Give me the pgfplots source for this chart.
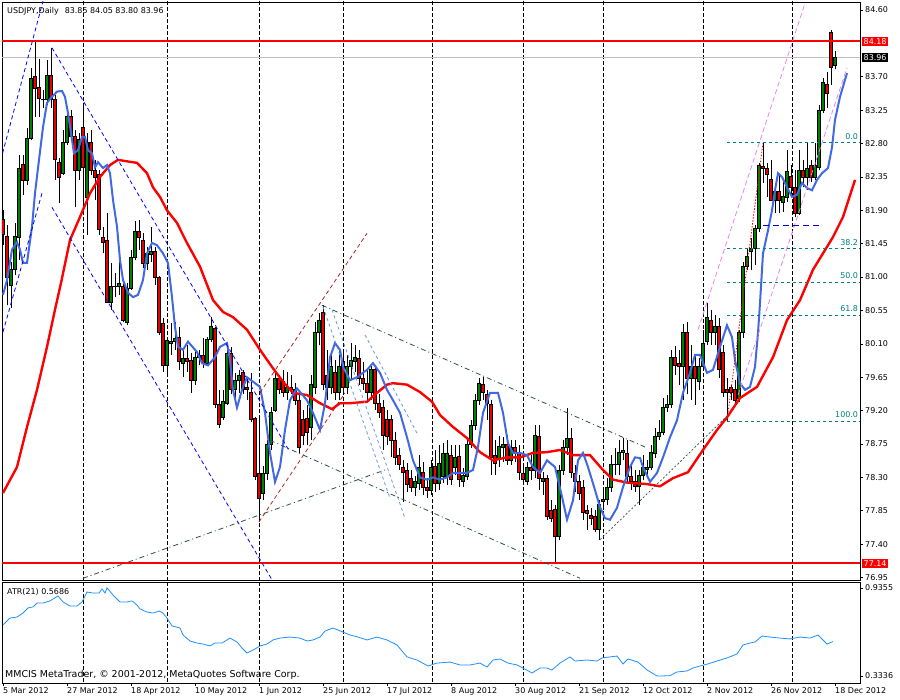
\documentclass[border=0pt]{standalone}
\usepackage{pgfplots}
\pgfplotsset{compat=1.18}
\usepackage{pgfplotstable}
\usepackage{fontspec}
\setmainfont{DejaVu Sans}
\definecolor{bull}{RGB}{0,128,0}
\definecolor{bear}{RGB}{230,0,0}
\definecolor{maBlue}{RGB}{65,105,225}
\definecolor{atrBlue}{RGB}{30,144,255}
\definecolor{fibTeal}{RGB}{0,128,128}
\definecolor{slate}{RGB}{47,79,79}
\definecolor{brick}{RGB}{178,34,34}
\definecolor{cfBlue}{RGB}{100,149,237}
\definecolor{violetL}{RGB}{238,130,238}
\definecolor{silverL}{RGB}{192,192,192}
\definecolor{medBlue}{RGB}{0,0,205}

\pgfplotstableread{
i o h l c
0 81.78 81.90 81.43 81.57
1 81.55 81.70 80.62 81.00
2 80.89 81.20 80.58 81.10
3 81.10 81.73 81.03 81.55
4 81.53 82.65 81.23 82.47
5 82.52 82.65 82.11 82.31
6 82.31 83.01 82.24 82.87
7 82.87 83.82 82.85 83.68
8 83.70 84.17 83.16 83.55
9 83.56 83.94 83.16 83.41
10 83.39 83.52 83.28 83.40
11 83.39 83.93 83.32 83.72
12 83.72 84.09 83.28 83.39
13 83.40 83.45 82.31 82.58
14 82.55 82.60 82.00 82.35
15 82.40 82.98 82.38 82.82
16 82.82 83.21 82.78 83.16
17 83.16 83.25 82.85 82.89
18 82.89 82.98 81.94 82.44
19 82.44 82.94 82.31 82.86
20 83.02 83.35 81.86 82.48
21 82.08 82.94 81.57 82.81
22 82.82 82.98 82.38 82.44
23 82.44 82.58 82.04 82.35
24 82.38 82.44 81.57 81.64
25 81.53 81.68 81.32 81.47
26 81.50 81.86 80.65 80.66
27 80.66 81.19 80.56 80.87
28 80.87 81.06 80.73 80.88
29 80.87 81.20 80.76 80.92
30 80.87 80.99 80.39 80.42
31 80.39 80.92 80.35 80.85
32 80.85 81.37 80.83 81.26
33 81.26 81.75 81.23 81.61
34 81.61 81.77 81.37 81.53
35 81.50 81.60 81.12 81.19
36 81.19 81.41 81.10 81.32
37 81.30 81.68 81.20 81.34
38 81.34 81.41 80.89 80.99
39 80.99 81.01 80.22 80.26
40 80.38 80.45 79.72 79.81
41 79.81 80.18 79.65 80.15
42 80.10 80.38 79.95 80.13
43 80.13 80.39 80.02 80.18
44 80.19 80.33 79.75 79.86
45 79.84 80.02 79.65 79.90
46 79.91 80.08 79.72 79.86
47 79.88 79.98 79.44 79.61
48 79.61 79.99 79.55 79.92
49 79.92 80.02 79.81 79.95
50 79.95 80.18 79.77 79.84
51 79.84 80.19 79.80 80.16
52 80.16 80.46 80.13 80.33
53 80.31 80.33 79.24 79.28
54 79.28 79.48 78.97 79.01
55 79.11 79.48 79.08 79.32
56 79.30 80.13 79.28 79.97
57 79.97 80.06 79.42 79.48
58 79.48 79.71 79.34 79.61
59 79.61 79.75 79.44 79.68
60 79.71 79.75 79.42 79.48
61 79.52 79.65 79.34 79.48
62 79.45 79.71 79.04 79.08
63 79.09 79.11 78.27 78.31
64 78.36 79.11 77.70 78.02
65 78.09 78.45 78.00 78.36
66 78.36 78.80 78.27 78.75
67 78.75 79.25 78.67 79.18
68 79.21 79.75 79.18 79.63
69 79.63 79.68 79.42 79.48
70 79.60 79.75 79.39 79.44
71 79.44 79.72 79.34 79.52
72 79.52 79.68 79.42 79.48
73 79.48 79.57 79.28 79.34
74 79.34 79.42 78.63 78.70
75 79.08 79.21 78.74 78.87
76 79.10 79.28 78.74 78.91
77 78.97 79.68 78.80 79.55
78 79.52 80.39 79.42 80.26
79 80.26 80.52 80.08 80.42
80 80.53 80.62 79.48 79.55
81 79.67 80.02 79.34 79.51
82 79.52 79.95 79.42 79.80
83 79.72 79.88 79.34 79.44
84 79.45 80.02 79.34 79.79
85 79.86 79.99 79.45 79.52
86 79.51 79.95 79.42 79.79
87 79.79 80.11 79.61 79.88
88 79.86 80.08 79.72 79.92
89 79.91 80.02 79.55 79.64
90 79.64 79.86 79.48 79.57
91 79.57 79.75 79.34 79.44
92 79.44 79.81 79.34 79.75
93 79.75 79.81 79.21 79.30
94 79.30 79.42 79.10 79.18
95 79.25 79.34 78.67 78.87
96 79.08 79.21 78.74 78.85
97 79.08 79.14 78.57 78.80
98 78.80 78.91 78.47 78.57
99 78.60 78.70 78.40 78.47
100 78.44 78.53 77.97 78.37
101 78.40 78.49 78.10 78.20
102 78.29 78.40 78.10 78.17
103 78.16 78.32 78.05 78.24
104 78.22 78.60 78.13 78.44
105 78.37 78.51 78.06 78.17
106 78.17 78.29 78.02 78.13
107 78.13 78.53 78.06 78.44
108 78.45 78.67 78.10 78.22
109 78.22 78.74 78.13 78.49
110 78.31 78.76 78.22 78.62
111 78.31 78.80 78.20 78.62
112 78.60 78.74 78.20 78.27
113 78.44 78.74 78.33 78.57
114 78.59 78.74 78.17 78.27
115 78.24 78.43 78.17 78.33
116 78.31 78.84 78.27 78.75
117 78.75 79.08 78.70 79.00
118 79.00 79.42 78.94 79.34
119 79.34 79.64 79.28 79.57
120 79.56 79.65 79.34 79.44
121 79.42 79.48 79.08 79.30
122 79.29 79.34 78.33 78.57
123 78.60 78.80 78.33 78.49
124 78.55 78.86 78.44 78.72
125 78.70 78.84 78.51 78.75
126 78.75 78.87 78.47 78.53
127 78.53 78.80 78.47 78.71
128 78.71 78.80 78.51 78.62
129 78.63 78.74 78.27 78.37
130 78.36 78.47 78.20 78.27
131 78.24 78.51 78.20 78.43
132 78.43 78.60 78.27 78.40
133 78.39 79.01 78.29 78.87
134 78.85 79.01 78.13 78.29
135 78.24 78.37 78.06 78.29
136 78.29 78.33 77.73 77.77
137 77.86 78.00 77.70 77.75
138 77.87 77.93 77.16 77.50
139 77.50 78.47 77.46 78.40
140 78.40 78.80 78.33 78.71
141 78.71 79.24 78.60 78.83
142 78.83 78.97 78.29 78.37
143 78.36 78.47 78.10 78.24
144 78.24 78.33 78.00 78.09
145 78.17 78.27 77.73 77.83
146 77.85 77.93 77.59 77.81
147 77.79 77.89 77.66 77.75
148 77.77 77.86 77.56 77.60
149 77.60 78.00 77.46 77.93
150 77.98 78.13 77.86 78.00
151 78.00 78.29 77.93 78.17
152 78.17 78.60 78.10 78.48
153 78.47 78.70 78.33 78.48
154 78.47 78.80 78.33 78.64
155 78.64 78.83 78.53 78.66
156 78.63 78.80 78.24 78.32
157 78.32 78.47 78.13 78.24
158 78.24 78.40 78.10 78.18
159 78.18 78.40 77.93 78.33
160 78.33 78.60 78.27 78.43
161 78.41 78.53 78.29 78.44
162 78.44 78.74 78.40 78.64
163 78.63 78.97 78.56 78.85
164 78.85 79.07 78.80 78.91
165 78.91 79.37 78.87 79.25
166 79.25 79.41 79.18 79.29
167 79.28 80.02 79.24 79.92
168 79.92 80.07 79.68 79.81
169 79.84 80.02 79.55 79.79
170 79.79 80.37 79.34 80.26
171 80.26 80.39 79.42 79.64
172 79.64 80.08 79.34 79.79
173 79.79 79.95 79.28 79.63
174 79.59 79.91 79.48 79.79
175 79.79 80.29 79.75 80.11
176 80.13 80.65 80.08 80.46
177 80.42 80.56 80.08 80.26
178 80.26 80.49 80.08 80.33
179 80.33 80.45 79.64 79.75
180 79.98 80.08 79.39 79.45
181 79.48 79.64 79.06 79.45
182 79.51 79.55 79.34 79.44
183 79.48 79.61 79.28 79.34
184 79.37 80.29 79.32 80.25
185 80.25 81.20 80.18 81.15
186 81.14 81.39 81.10 81.28
187 81.34 81.53 81.10 81.39
188 81.39 81.70 81.16 81.65
189 81.65 82.54 81.61 82.50
190 82.49 82.81 82.27 82.47
191 82.47 82.54 82.08 82.38
192 82.32 82.58 82.02 82.04
193 82.04 82.24 81.86 82.15
194 82.15 82.38 81.86 82.04
195 82.01 82.34 81.88 82.09
196 82.08 82.71 82.01 82.43
197 82.36 82.51 82.11 82.21
198 82.21 82.44 81.81 81.86
199 81.86 82.71 81.84 82.44
200 82.44 82.58 82.21 82.35
201 82.35 82.81 82.18 82.46
202 82.50 82.58 82.28 82.35
203 82.35 82.81 82.31 82.51
204 82.48 83.32 82.44 83.25
205 83.25 83.68 83.21 83.62
206 83.60 83.76 83.28 83.47
207 84.30 84.33 83.59 83.83
208 83.85 84.05 83.80 83.96
}\candles

\pgfplotstableread{
i p
0 78.09
3.5 78.44
6 78.98
8.5 79.48
11 80.06
13 80.56
14.5 80.92
16.75 81.50
19.25 81.81
21.75 82.13
24.25 82.35
26.75 82.51
28.75 82.58
31 82.56
33.5 82.54
36 82.40
37.5 82.21
39.25 82.08
41 81.90
43.5 81.73
46 81.46
49.25 81.14
52.5 80.69
55 80.53
57.5 80.46
61 80.29
64.25 80.02
67.5 79.77
70 79.59
72.5 79.44
76 79.41
79.25 79.30
82.25 79.22
84.25 79.30
86.75 79.30
91 79.32
93.5 79.44
96 79.55
97.5 79.57
101 79.55
104.25 79.45
107.25 79.32
109.25 79.14
112.5 78.98
116 78.83
119.25 78.64
122.5 78.53
126 78.57
129.25 78.57
132.5 78.63
136 78.64
139.25 78.67
142.5 78.60
146.75 78.60
150 78.40
152.5 78.27
156 78.23
161 78.21
164.25 78.18
167.5 78.29
171.25 78.37
175 78.67
178.5 78.94
181 79.11
184.25 79.37
188.5 79.52
192.5 79.92
196 80.42
199.25 80.69
202.5 81.10
207.5 81.54
210 81.81
213 82.31
}\slowma

\pgfplotstableread{
i p
0 80.76
1 80.96
2.25 81.37
3.5 81.47
4.25 81.37
5 81.19
6 81.19
7.25 81.68
8 82.13
9 82.58
10 83.02
11 83.35
12.25 83.43
13.5 83.50
14.75 83.51
15.5 83.43
16.25 83.21
17.25 82.85
17.75 82.67
18.75 82.71
19.75 82.89
20.5 82.89
21.25 82.71
22.25 82.67
23 82.48
23.75 82.55
25 82.47
26 82.51
26.75 82.40
27.5 82.04
28.5 81.68
29.25 81.23
30 80.96
31.25 80.79
32.5 80.73
33.75 80.76
35 80.96
36 81.32
37.25 81.46
38.5 81.43
40 81.32
41.25 81.19
42.25 80.73
43 80.33
43.75 80.06
45 80.02
46.25 80.13
48.5 79.99
49.75 79.84
51.25 79.81
53 79.92
54.25 80.06
56 80.11
56.75 79.88
57.5 79.48
58.5 79.24
59.75 79.48
61 79.65
62.5 79.59
64.25 79.52
65.5 79.17
66.75 78.63
68 78.24
69.25 78.44
70.5 78.94
71.75 79.34
73.5 79.50
76 79.34
77.5 79.17
79.25 78.94
80.5 79.30
81.75 79.92
83 80.11
84.25 80.02
85 79.79
86.75 79.61
88.5 79.65
91 79.75
92.5 79.84
94.25 79.71
96 79.48
97.5 79.34
99.25 79.17
101 78.84
102.5 78.53
104.25 78.30
106 78.27
107.5 78.30
109.25 78.27
111 78.30
112.5 78.36
114.25 78.36
116 78.36
117.5 78.40
118.75 78.71
120 79.17
121.75 79.44
123.75 79.44
125 79.17
126.25 78.76
127.5 78.63
129.25 78.63
131 78.60
132.5 78.44
134.25 78.36
136 78.53
138 78.44
139.75 78.04
141 77.73
142.5 77.99
143.75 78.53
145 78.63
146.25 78.44
148 78.13
149.25 77.90
150.5 77.75
151.75 77.73
153.5 77.89
155 78.17
156.75 78.44
158 78.57
159.25 78.56
160 78.44
161.75 78.24
163.5 78.36
165 78.57
166.75 78.84
168.5 79.07
170 79.44
171.75 79.71
173 79.95
174.25 79.95
176 79.71
177.5 79.75
179.25 80.06
181 80.35
182.25 80.19
183 79.88
184.25 79.57
185.5 79.48
186.75 79.52
188 79.79
188.75 80.25
189.25 80.65
190 81.32
191.25 81.63
192.25 81.90
193 82.17
193.75 82.40
194.75 82.35
196 82.21
197.25 82.08
198.5 82.11
199.75 82.27
201 82.20
202.25 82.17
203.5 82.31
204.75 82.40
206.25 82.47
207.25 82.75
208 83.12
209.25 83.43
211 83.75
}\fastma

\pgfplotstableread{
i a
0 0.683
1.75 0.730
3.5 0.737
5 0.764
6.25 0.799
7.5 0.806
8.5 0.833
10 0.833
11.75 0.847
13.75 0.881
15 0.840
16.75 0.812
18.5 0.812
19.75 0.840
21 0.908
22.5 0.901
24 0.901
24.75 0.929
25.5 0.901
26 0.936
27.5 0.888
29.25 0.840
31 0.840
32.25 0.847
33.5 0.819
34.25 0.792
36 0.771
37.5 0.764
39 0.778
40 0.764
41 0.730
42.25 0.676
44.25 0.662
45 0.614
46.75 0.573
48.5 0.559
50 0.552
51.75 0.539
53 0.559
54.75 0.559
56.75 0.593
58.5 0.566
59.75 0.525
61 0.491
62.5 0.511
64.25 0.539
66 0.552
67.5 0.580
69.25 0.593
71.75 0.600
74.25 0.593
76 0.573
77.5 0.580
79.25 0.600
80.5 0.641
82.5 0.662
85 0.634
86.75 0.614
88.75 0.600
91 0.580
93.5 0.600
96 0.580
98.5 0.546
101 0.464
103.5 0.443
106.25 0.402
108.5 0.422
111.75 0.429
114.25 0.409
116.75 0.409
119.25 0.422
121 0.395
122.5 0.443
124.25 0.450
126.25 0.422
128.5 0.409
130 0.388
132.25 0.354
134.25 0.388
136 0.388
137.25 0.375
139.25 0.422
141.75 0.464
143 0.436
146 0.443
148.5 0.436
149.75 0.457
151.75 0.464
153.5 0.470
155 0.416
156.25 0.450
158.75 0.429
161 0.375
163.5 0.334
165 0.334
166.75 0.336
168.5 0.361
171 0.368
172.5 0.388
174.25 0.402
176.25 0.416
178.5 0.436
181 0.457
183.5 0.484
185 0.546
186.75 0.559
188 0.566
189.75 0.607
191.75 0.600
194.25 0.593
196.75 0.587
199.25 0.600
201.75 0.593
203.75 0.614
206 0.552
207.5 0.569
}\atr

\pgfplotsset{
  mtframe/.style={
    scale only axis, width=858bp,
    xmin=-0.25, xmax=214.25,
    axis line style={black, line width=0.8bp},
    tick style={black, line width=0.6bp},
    tick align=outside, major tick length=3bp,
    every tick label/.append style={font=\fontsize{8}{9.6}\selectfont},
    ytick pos=right,
    yticklabel style={anchor=west, inner sep=0pt, xshift=2bp},
  },
}

\begin{document}
\begin{tikzpicture}[font=\fontsize{8}{9.6}\selectfont]
\useasboundingbox (0,0) rectangle (900bp,700bp);
\fill[white] (0,0) rectangle (900bp,700bp);

\begin{axis}[mtframe,
  at={(2bp,120bp)}, anchor=south west, height=578bp,
  ymin=76.917, ymax=84.708,
  xtick=\empty,
  ytick={76.95,77.40,77.85,78.30,78.75,79.20,79.65,80.10,80.55,81.00,81.45,81.90,82.35,82.80,83.25,83.70,84.60},
  yticklabels={76.95,77.40,77.85,78.30,78.75,79.20,79.65,80.10,80.55,81.00,81.45,81.90,82.35,82.80,83.25,83.70,84.60},
]
% month separators
\pgfplotsinvokeforeach{20,41,64,85,107.25,130,150,175,197.25}{
  \addplot[black, line width=0.8bp, dash pattern=on 4bp off 2bp, forget plot] coordinates {(#1,76.9) (#1,84.8)};
}
% current price line
\addplot[silverL, line width=0.9bp] coordinates {(-0.25,83.96) (214.25,83.96)};

% candles
\pgfplotstablegetrowsof{\candles}
\pgfmathtruncatemacro\lastrow{\pgfplotsretval-1}
\pgfplotsforeachungrouped \k in {0,...,\lastrow}{%
  \pgfplotstablegetelem{\k}{i}\of\candles\let\cX\pgfplotsretval
  \pgfplotstablegetelem{\k}{o}\of\candles\let\cO\pgfplotsretval
  \pgfplotstablegetelem{\k}{h}\of\candles\let\cH\pgfplotsretval
  \pgfplotstablegetelem{\k}{l}\of\candles\let\cL\pgfplotsretval
  \pgfplotstablegetelem{\k}{c}\of\candles\let\cC\pgfplotsretval
  \pgfmathsetmacro\cXL{\cX-0.33}%
  \pgfmathsetmacro\cXR{\cX+0.33}%
  \pgfmathtruncatemacro\cDown{\cC<\cO}%
  \ifnum\cDown=1 \def\cFill{bear}\else\def\cFill{bull}\fi
  \edef\doit{%
    \noexpand\addplot[black, line width=0.9bp, forget plot] coordinates {(\cX,\cL) (\cX,\cH)};%
    \noexpand\addplot[draw=black, fill=\cFill, line width=0.75bp, forget plot] coordinates {(\cXL,\cO) (\cXR,\cO) (\cXR,\cC) (\cXL,\cC)} -- cycle;%
  }\doit
}

% moving averages
\addplot[red, line width=2.4bp] table[x=i, y=p] {\slowma};
\addplot[maBlue, line width=2bp] table[x=i, y=p] {\fastma};

% support / resistance
\addplot[red, line width=2bp] coordinates {(-0.25,84.18) (214.25,84.18)};
\addplot[red, line width=2bp] coordinates {(-0.25,77.14) (214.25,77.14)};

% blue channels
\addplot[blue, line width=0.8bp, dash pattern=on 4bp off 3bp] coordinates {(-0.1,82.67) (10.1,84.74)};
\addplot[blue, line width=0.8bp, dash pattern=on 4bp off 3bp] coordinates {(0,80.26) (9.75,82.13)};
\addplot[blue, line width=0.8bp, dash pattern=on 4bp off 3bp] coordinates {(12.25,84.09) (71.75,78.64)};
\addplot[blue, line width=0.8bp, dash pattern=on 4bp off 3bp] coordinates {(12.25,81.94) (67.25,76.92)};
% brick dashed channel
\addplot[brick, line width=0.8bp, dash pattern=on 4bp off 3bp] coordinates {(64,77.70) (85.5,79.44)};
\addplot[brick, line width=0.8bp, dash pattern=on 4bp off 3bp] coordinates {(64.25,79.44) (91,81.59)};
% slate dash-dot lines
\addplot[slate, line width=0.8bp, dash pattern=on 5bp off 3bp on 1bp off 3bp] coordinates {(79.75,80.62) (160.5,78.71)};
\addplot[slate, line width=0.8bp, dash pattern=on 5bp off 3bp on 1bp off 3bp] coordinates {(66.75,78.80) (144.25,76.94)};
\addplot[slate, line width=0.8bp, dash pattern=on 5bp off 3bp on 1bp off 3bp] coordinates {(20,76.94) (95.5,78.40)};
\addplot[slate, line width=0.7bp, dash pattern=on 2bp off 2bp] coordinates {(149.25,77.46) (181.25,79.14)};
% cornflower fan
\addplot[cfBlue, line width=0.8bp, dash pattern=on 3bp off 3bp] coordinates {(80,80.60) (96.75,78.02)};
\addplot[cfBlue, line width=0.8bp, dash pattern=on 3bp off 3bp] coordinates {(82.25,80.56) (100.5,77.75)};
\addplot[cfBlue, line width=0.8bp, dash pattern=on 3bp off 3bp] coordinates {(90.5,80.22) (103.75,78.87)};
% violet channel
\addplot[violetL, line width=0.8bp, dash pattern=on 5bp off 3bp] coordinates {(173.75,80.29) (200.5,84.69)};
\addplot[violetL, line width=0.8bp, dash pattern=on 5bp off 3bp] coordinates {(183.75,79.41) (211,83.82)};
% fibonacci
\pgfplotsinvokeforeach{82.81,81.38,80.935,80.49,79.06}{
  \addplot[fibTeal, line width=0.8bp, dash pattern=on 3bp off 3bp, forget plot] coordinates {(181,#1) (214.25,#1)};
}
\addplot[red, line width=0.8bp, dash pattern=on 1.5bp off 1.5bp] coordinates {(181,79.06) (190,82.81)};
\addplot[medBlue, line width=1bp, dash pattern=on 6bp off 4bp] coordinates {(190,81.70) (204.25,81.70)};

\node[anchor=south east, inner sep=0pt, text=fibTeal] at (axis cs:213.8,82.85) {0.0};
\node[anchor=south east, inner sep=0pt, text=fibTeal] at (axis cs:213.8,81.42) {38.2};
\node[anchor=south east, inner sep=0pt, text=fibTeal] at (axis cs:213.8,80.975) {50.0};
\node[anchor=south east, inner sep=0pt, text=fibTeal] at (axis cs:213.8,80.53) {61.8};
\node[anchor=south east, inner sep=0pt, text=fibTeal] at (axis cs:213.8,79.10) {100.0};

\coordinate (b1) at (axis cs:214.25,84.18);
\coordinate (b2) at (axis cs:214.25,83.96);
\coordinate (b3) at (axis cs:214.25,77.14);
\end{axis}

\begin{axis}[mtframe,
  at={(2bp,17bp)}, anchor=south west, height=101bp,
  ymin=0.2857, ymax=0.9765,
  xtick={0,16,...,208},
  xticklabels={5 Mar 2012,27 Mar 2012,18 Apr 2012,10 May 2012,1 Jun 2012,25 Jun 2012,17 Jul 2012,8 Aug 2012,30 Aug 2012,21 Sep 2012,12 Oct 2012,2 Nov 2012,26 Nov 2012,18 Dec 2012},
  xtick pos=bottom,
  xticklabel style={anchor=north west, inner sep=0pt, yshift=-1bp},
  ytick={0.3336,0.9355},
  yticklabels={0.3336,0.9355},
]
\pgfplotsinvokeforeach{20,41,64,85,107.25,130,150,175,197.25}{
  \addplot[black, line width=0.8bp, dash pattern=on 4bp off 2bp, forget plot] coordinates {(#1,0.25) (#1,1.0)};
}
\addplot[atrBlue, line width=0.8bp] table[x=i, y=a] {\atr};
\end{axis}

\node[fill=red, text=white, anchor=west, inner sep=1.5bp] at ([xshift=2bp]b1) {84.18};
\node[fill=black, text=white, anchor=west, inner sep=1.5bp] at ([xshift=2bp]b2) {83.96};
\node[fill=red, text=white, anchor=west, inner sep=1.5bp] at ([xshift=2bp]b3) {77.14};

\node[anchor=west, inner sep=0pt] at (7bp,689bp) {USDJPY,Daily\hspace{6bp}83.85 84.05 83.80 83.96};
\node[anchor=west, inner sep=0pt] at (7bp,108bp) {ATR(21) 0.5686};
\node[anchor=west, inner sep=0pt, font=\fontsize{9.5}{11}\selectfont] at (5bp,25bp) {MMCIS MetaTrader, © 2001-2012, MetaQuotes Software Corp.};
\end{tikzpicture}
\end{document}
